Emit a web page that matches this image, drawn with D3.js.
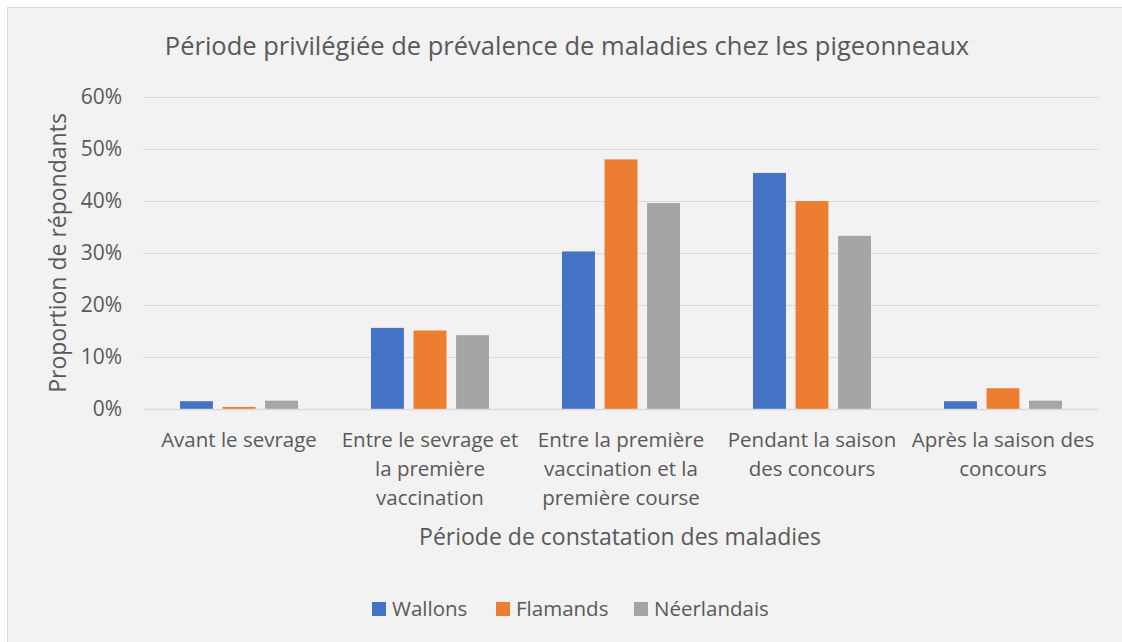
<!DOCTYPE html>
<html lang="fr">
<head>
<meta charset="utf-8">
<script src="https://cdn.jsdelivr.net/npm/d3@7"></script>
<style>
  html, body { margin: 0; padding: 0; background: #ffffff; }
  svg { display: block; }
  text { font-family: "Open Sans", "Noto Sans", sans-serif; fill: #595959; }
</style>
</head>
<body>
<svg id="chart" width="1122" height="642"></svg>
<script>
// Période de constatation des maladies (catégories de l'axe X, lignes de libellé)
const categories = [
  ["Avant le sevrage"],
  ["Entre le sevrage et", "la première", "vaccination"],
  ["Entre la première", "vaccination et la", "première course"],
  ["Pendant la saison", "des concours"],
  ["Après la saison des", "concours"]
];
const seriesNames = ["Wallons", "Flamands", "Néerlandais"];
const wallons     = [0.015, 0.156, 0.303, 0.454, 0.015];
const flamands    = [0.004, 0.151, 0.480, 0.400, 0.040];
const neerlandais = [0.016, 0.142, 0.396, 0.333, 0.016];
const yTicks = [0, 0.1, 0.2, 0.3, 0.4, 0.5, 0.6];
const colors = ["#4472c4", "#ed7d31", "#a5a5a5"];

const svg = d3.select("#chart");
const W = 1122, H = 642;

// chart area background and frame
svg.append("rect")
  .attr("x", 7.5).attr("y", 7.5)
  .attr("width", W + 20).attr("height", H + 20)
  .attr("fill", "#f2f2f2").attr("stroke", "#d9d9d9").attr("stroke-width", 1);

const plot = { left: 143.5, right: 1098.5, top: 97, bottom: 409 };

const keys = categories.map((c, i) => i);
const x0 = d3.scaleBand().domain(keys).range([plot.left, plot.right]).paddingInner(0).paddingOuter(0);
const y = d3.scaleLinear().domain([0, 0.6]).range([plot.bottom, plot.top]);
const groupInset = 36.5;
const x1 = d3.scaleBand().domain([0, 1, 2])
  .range([groupInset, x0.bandwidth() - groupInset]).paddingInner(0.226).paddingOuter(0);

// gridlines
svg.append("g")
  .selectAll("line").data(yTicks).join("line")
  .attr("x1", plot.left).attr("x2", plot.right)
  .attr("y1", d => Math.round(y(d)) + 0.5).attr("y2", d => Math.round(y(d)) + 0.5)
  .attr("stroke", "#d9d9d9").attr("stroke-width", 1);

// y tick labels
const fmt = d3.format(".0%");
svg.append("g")
  .selectAll("text").data(yTicks).join("text")
  .attr("x", 122).attr("y", d => y(d))
  .attr("dy", "0.35em")
  .attr("text-anchor", "end")
  .attr("font-size", 21)
  .text(d => fmt(d));

// bars
const table = keys.map(i => [wallons[i], flamands[i], neerlandais[i]]);
const groups = svg.append("g").selectAll("g").data(table).join("g")
  .attr("transform", (d, i) => `translate(${x0(i)},0)`);
groups.selectAll("rect").data(d => d.map((v, s) => ({ v, s }))).join("rect")
  .attr("x", d => x1(d.s))
  .attr("width", x1.bandwidth())
  .attr("y", d => y(d.v))
  .attr("height", d => y(0) - y(d.v))
  .attr("fill", d => colors[d.s]);

// baseline axis line
svg.append("line")
  .attr("x1", plot.left).attr("x2", plot.right)
  .attr("y1", plot.bottom + 0.5).attr("y2", plot.bottom + 0.5)
  .attr("stroke", "#d9d9d9").attr("stroke-width", 1.5);

// category labels
const catG = svg.append("g").selectAll("text").data(categories).join("text")
  .attr("text-anchor", "middle")
  .attr("font-size", 20.5)
  .attr("x", (d, i) => x0(i) + x0.bandwidth() / 2)
  .attr("y", 447);
catG.selectAll("tspan").data(d => d).join("tspan")
  .attr("x", function () { return d3.select(this.parentNode).attr("x"); })
  .attr("dy", (d, i) => i === 0 ? 0 : 29)
  .text(d => d);

// title
svg.append("text")
  .attr("x", 567).attr("y", 55)
  .attr("text-anchor", "middle")
  .attr("font-size", 25.5)
  .text("Période privilégiée de prévalence de maladies chez les pigeonneaux");

// axis titles
svg.append("text")
  .attr("x", 620).attr("y", 545)
  .attr("text-anchor", "middle")
  .attr("font-size", 23)
  .text("Période de constatation des maladies");

svg.append("text")
  .attr("transform", "translate(66,253) rotate(-90)")
  .attr("text-anchor", "middle")
  .attr("font-size", 23)
  .text("Proportion de répondants");

// legend
const legendX = [372, 496, 634];
const lg = svg.append("g").selectAll("g").data(seriesNames).join("g")
  .attr("transform", (d, i) => `translate(${legendX[i]},602)`);
lg.append("rect").attr("width", 14).attr("height", 14).attr("fill", (d, i) => colors[i]);
lg.append("text").attr("x", 20).attr("y", 7).attr("dy", "0.35em")
  .attr("font-size", 20.5).text(d => d);
</script>
</body>
</html>
